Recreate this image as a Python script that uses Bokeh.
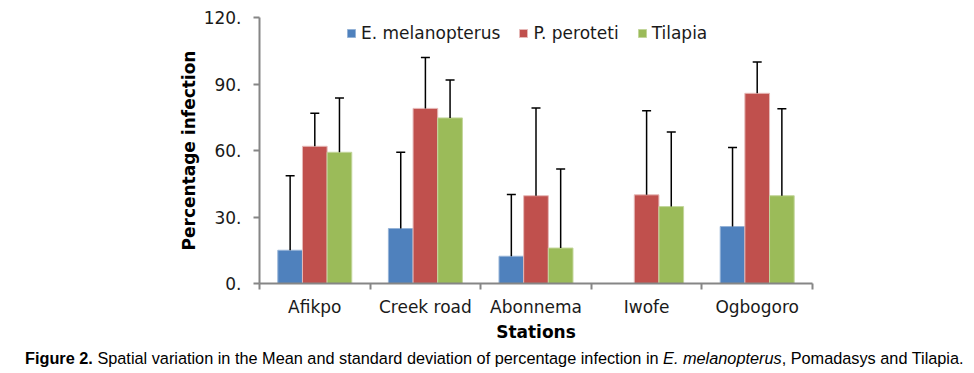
from bokeh.plotting import figure
from bokeh.models import (ColumnDataSource, Range1d, FixedTicker, PrintfTickFormatter,
                          Whisker, TeeHead, Legend, LegendItem, Div)
from bokeh.layouts import column
from bokeh.embed import file_html
from bokeh.resources import INLINE

stations = ["Afikpo", "Creek road", "Abonnema", "Iwofe", "Ogbogoro"]
series_names = ["E. melanopterus", "P. peroteti", "Tilapia"]
e_mel_mean = [15.0, 24.8, 12.3, 0.0, 25.7]
e_mel_sd = [33.6, 34.4, 27.8, 0.0, 35.6]
p_per_mean = [61.9, 79.0, 39.6, 40.0, 85.8]
p_per_sd = [14.9, 23.0, 39.6, 37.9, 14.1]
til_mean = [59.2, 74.7, 16.0, 34.7, 39.6]
til_sd = [24.5, 17.1, 35.6, 33.7, 39.2]
y_ticks = [0, 30, 60, 90, 120]

means = [e_mel_mean, p_per_mean, til_mean]
sds = [e_mel_sd, p_per_sd, til_sd]
fills = ["#4F81BD", "#C0504D", "#9BBB59"]
edges = ["#95B3D7", "#E6B9B8", "#C3D69B"]

FONT = "DejaVu Sans"
AX = "#868686"
TXT = "#1a1a1a"

n = len(stations)
p = figure(width=974, height=349, x_range=Range1d(0, n), y_range=Range1d(0, 120),
           output_backend="svg", toolbar_location=None,
           min_border_left=259, min_border_right=162, min_border_top=17, min_border_bottom=66)
p.outline_line_color = None
p.xgrid.visible = False
p.ygrid.visible = False
p.background_fill_color = "white"
p.border_fill_color = "white"

bw = 0.223
items = []
for k in range(3):
    off = (k - 1) * bw
    xs = [i + 0.5 + off for i in range(n)]
    src = ColumnDataSource(dict(x=xs, top=means[k]))
    r = p.vbar(x="x", top="top", width=bw, source=src, fill_color=fills[k],
               line_color=edges[k], line_width=1)
    items.append(LegendItem(label=series_names[k], renderers=[r]))
    keep = [i for i in range(n) if sds[k][i] > 0]
    esrc = ColumnDataSource(dict(base=[xs[i] for i in keep],
                                 lower=[means[k][i] for i in keep],
                                 upper=[means[k][i] + sds[k][i] for i in keep]))
    w = Whisker(base="base", lower="lower", upper="upper", source=esrc,
                line_color="black", line_width=1.5, lower_head=None,
                upper_head=TeeHead(size=9, line_color="black", line_width=1.5),
                level="overlay")
    p.add_layout(w)

legend = Legend(items=items, orientation="horizontal", location=(87, 240),
                glyph_width=10, glyph_height=10, label_standoff=5, spacing=18,
                padding=0, margin=0, border_line_color=None, background_fill_alpha=0,
                label_text_font=FONT, label_text_font_size="17px", label_text_color=TXT)
p.add_layout(legend)

# x axis
xa = p.xaxis[0]
xa.ticker = FixedTicker(ticks=[i + 0.5 for i in range(n)], minor_ticks=list(range(n + 1)))
xa.major_label_overrides = {i + 0.5: s for i, s in enumerate(stations)}
xa.major_tick_line_color = None
xa.major_tick_out = 0
xa.major_tick_in = 0
xa.minor_tick_line_color = AX
xa.minor_tick_line_width = 2
xa.minor_tick_out = 6
xa.minor_tick_in = 0
xa.axis_line_color = AX
xa.axis_line_width = 2
xa.major_label_text_font = FONT
xa.major_label_text_font_size = "17px"
xa.major_label_text_color = TXT
xa.major_label_standoff = 7
xa.axis_label = "Stations"
xa.axis_label_text_font = FONT
xa.axis_label_text_font_size = "17px"
xa.axis_label_text_font_style = "bold"
xa.axis_label_text_color = "black"
xa.axis_label_standoff = 2

ya = p.yaxis[0]
ya.ticker = FixedTicker(ticks=y_ticks, minor_ticks=[])
ya.formatter = PrintfTickFormatter(format="%d.")
ya.major_tick_line_color = AX
ya.major_tick_line_width = 2
ya.major_tick_out = 6
ya.major_tick_in = 0
ya.minor_tick_line_color = None
ya.axis_line_color = AX
ya.axis_line_width = 2
ya.major_label_text_font = FONT
ya.major_label_text_font_size = "17px"
ya.major_label_text_color = TXT
ya.major_label_standoff = 12
ya.axis_label = "Percentage infection"
ya.axis_label_text_font = FONT
ya.axis_label_text_font_size = "17px"
ya.axis_label_text_font_style = "bold"
ya.axis_label_text_color = "black"
ya.axis_label_standoff = 2

caption = Div(text=('<span style="font-weight:bold">Figure 2.</span> Spatial variation in the Mean and '
                    'standard deviation of percentage infection in <i>E. melanopterus</i>, '
                    'Pomadasys and Tilapia.'),
              width=974, height=24, margin=(0, 0, 0, 0),
              styles={"font-family": "Liberation Sans", "font-size": "16.3px", "color": "black",
                      "white-space": "nowrap", "padding-left": "25px", "line-height": "18px"})

layout = column(p, caption, spacing=0)
open("out.html", "w").write(file_html(layout, INLINE))
